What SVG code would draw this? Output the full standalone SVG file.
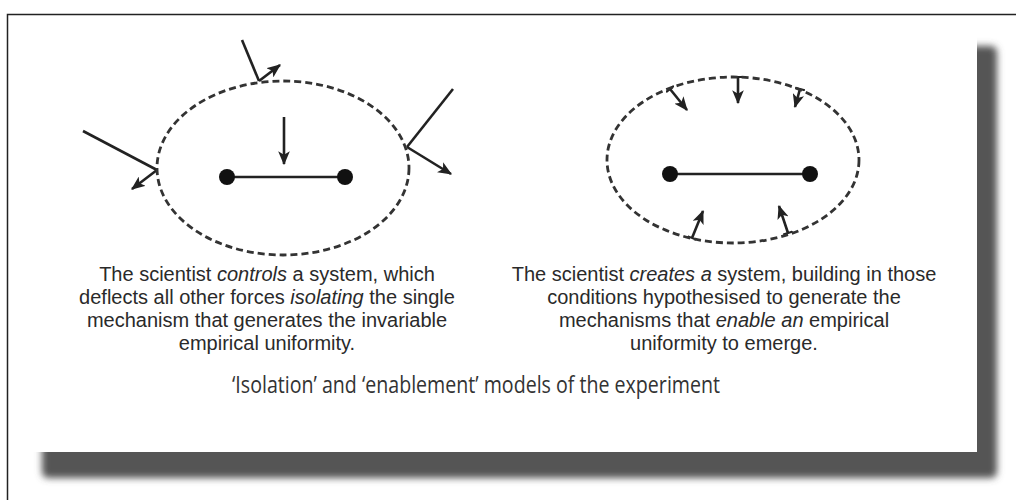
<svg xmlns="http://www.w3.org/2000/svg" width="1016" height="500" viewBox="0 0 1016 500">
  <defs>
    <filter id="blur" x="-10%" y="-10%" width="120%" height="120%">
      <feGaussianBlur stdDeviation="3.5"/>
    </filter>
    <marker id="head" viewBox="0 0 12 10" refX="11" refY="5" markerWidth="14" markerHeight="12" markerUnits="userSpaceOnUse" orient="auto">
      <path d="M0,0 L12,5 L0,10 L3,5 Z" fill="#222"/>
    </marker>
    <marker id="tick" viewBox="0 0 4 10" refX="2" refY="5" markerWidth="4" markerHeight="10" markerUnits="userSpaceOnUse" orient="auto">
      <line x1="2" y1="0" x2="2" y2="10" stroke="#222" stroke-width="2"/>
    </marker>
    <style>
      .ell { fill: none; stroke: #333; stroke-width: 2.8; stroke-dasharray: 7 4; }
      .ln { fill: none; stroke: #222; stroke-width: 2.6; }
      .arr { fill: none; stroke: #222; stroke-width: 2.6; marker-end: url(#head); }
      .arrt { fill: none; stroke: #222; stroke-width: 2.6; marker-end: url(#head); marker-start: url(#tick); }
      .dot { fill: #111; }
      .cap { font-family: "Liberation Sans", Arial, sans-serif; font-size: 20px; fill: #2a2a2a; text-anchor: middle; }
      .title { font-family: "Open Sans", "Liberation Sans", sans-serif; font-size: 23px; fill: #333; text-anchor: middle; }
    </style>
  </defs>

  <rect x="0" y="0" width="1016" height="500" fill="#ffffff"/>
  <!-- outer frame -->
  <path d="M7.5,500 L7.5,14.5 L1016,14.5" fill="none" stroke="#222" stroke-width="1.5"/>

  <!-- page with shadow -->
  <rect x="42" y="46" width="955" height="432" rx="6" fill="#555" filter="url(#blur)"/>
  <rect x="20" y="22" width="957" height="430" fill="#ffffff"/>

  <g id="connectors">
    <!-- left model -->
    <line class="ln" x1="242" y1="40" x2="259" y2="81"/>
    <line class="arr" x1="259" y1="81" x2="280" y2="65"/>
    <line class="ln" x1="83" y1="131" x2="157" y2="170"/>
    <line class="arr" x1="157" y1="170" x2="132" y2="189"/>
    <line class="ln" x1="453" y1="89" x2="407" y2="147"/>
    <line class="arr" x1="407" y1="147" x2="451" y2="174"/>
    <line class="arr" x1="284" y1="117" x2="284" y2="164"/>
    <!-- right model -->
    <line class="arrt" x1="670" y1="89" x2="687" y2="110"/>
    <line class="arrt" x1="738" y1="77" x2="738" y2="103"/>
    <line class="arrt" x1="800" y1="89" x2="795" y2="107"/>
    <line class="arrt" x1="692" y1="238" x2="703" y2="211"/>
    <line class="arrt" x1="788" y1="233" x2="779" y2="206"/>
  </g>

  <g id="isolation-system">
    <ellipse class="ell" cx="283" cy="168" rx="126" ry="87"/>
    <line class="ln" x1="227" y1="177" x2="345" y2="177"/>
    <circle class="dot" cx="227" cy="177" r="8"/>
    <circle class="dot" cx="345" cy="177" r="8"/>
  </g>

  <g id="enablement-system">
    <ellipse class="ell" cx="733" cy="160" rx="126" ry="83"/>
    <line class="ln" x1="670" y1="174" x2="810" y2="174"/>
    <circle class="dot" cx="670" cy="174" r="8"/>
    <circle class="dot" cx="810" cy="174" r="8"/>
  </g>

  <g id="isolation-caption">
    <text class="cap" x="267" y="281">The scientist <tspan font-style="italic">controls</tspan> a system, which</text>
    <text class="cap" x="267" y="304">deflects all other forces <tspan font-style="italic">isolating</tspan> the single</text>
    <text class="cap" x="267" y="327">mechanism that generates the invariable</text>
    <text class="cap" x="267" y="350">empirical uniformity.</text>
  </g>

  <g id="enablement-caption">
    <text class="cap" x="724" y="281">The scientist <tspan font-style="italic">creates a</tspan> system, building in those</text>
    <text class="cap" x="724" y="304">conditions hypothesised to generate the</text>
    <text class="cap" x="724" y="327">mechanisms that <tspan font-style="italic">enable an</tspan> empirical</text>
    <text class="cap" x="724" y="350">uniformity to emerge.</text>
  </g>

  <g id="title">
    <text class="title" x="476" y="393" textLength="488" lengthAdjust="spacingAndGlyphs">‘Isolation’ and ‘enablement’ models of the experiment</text>
  </g>
</svg>
